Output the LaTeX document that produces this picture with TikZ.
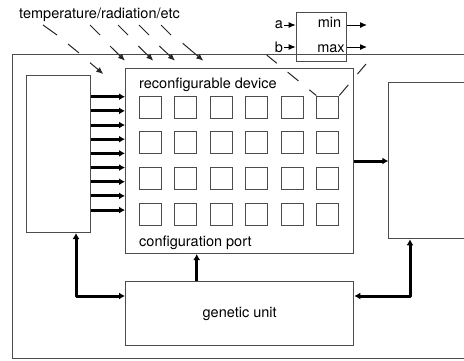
\documentclass[tikz,border=0pt]{standalone}
\usepackage{fontspec}
\setmainfont{TeX Gyre Heros}
\usetikzlibrary{arrows.meta,positioning,calc}

\begin{document}
\begin{tikzpicture}[x=1pt,y=-1pt,font=\fontsize{14.5}{16}\selectfont,
    >={Latex[length=7pt,width=6pt]}]
  % Local definitions
  \def\cellpitch{35.5}
  \def\rowpitch{35.67}

  % Colors
  \colorlet{linecolor}{black!70}

  % Styles
  \tikzstyle{box}=[draw=linecolor,line width=1pt,inner sep=0pt,anchor=north west]
  \tikzstyle{cell}=[draw=linecolor,line width=1pt,inner sep=0pt,minimum size=22pt]
  \tikzstyle{label text}=[anchor=west,inner sep=0pt]
  \tikzstyle{bus}=[line width=3pt,-{Latex[length=6pt,width=7pt]}]
  \tikzstyle{both ways}=[{Latex[length=6pt,width=7pt]}-{Latex[length=6pt,width=7pt]},line join=round]
  \tikzstyle{signal}=[line width=1pt,->]
  \tikzstyle{ray}=[line width=1pt,black!85]
  \tikzstyle{zoom line}=[line width=1pt,black!85,dash pattern=on 14pt off 14pt]

  % The graphic
  \path[use as bounding box,clip] (0,0) rectangle (464,360);

  % boxes
  \node[box,minimum width=480pt,minimum height=304pt] (frame) at (12,54) {};
  \node[box,minimum width=64pt,minimum height=157pt] (leftbox) at (26,75) {};
  \node[box,minimum width=227.7pt,minimum height=185pt] (device) at (125,68) {};
  \node[box,minimum width=100pt,minimum height=156.6pt] (rightbox) at (388.3,81.7) {};
  \node[box,minimum width=228.3pt,minimum height=64.3pt] (genetic) at (125,281) {genetic unit};
  \node[box,minimum width=50.3pt,minimum height=49.3pt] (comp) at (295.7,11.7) {};

  % cells of the device
  \foreach \r in {1,...,4}
    \foreach \c in {1,...,6}
      \node[cell] (cell-\r-\c) at ({150.3+\cellpitch*(\c-1)},{107+\rowpitch*(\r-1)}) {};

  % texts
  \node[label text] (envlabel) at (19,15) {temperature/radiation/etc};
  \node[label text] (devlabel) at ($(device.north west)+(14,17)$) {reconfigurable device};
  \node[label text] (portlabel) at ($(device.south west)+(14,-11.5)$) {configuration port};

  % min/max cell
  \node (minlabel) at (329.5,22.5) {min};
  \node (maxlabel) at (331,48.5) {max};
  \node[inner sep=1pt] (alabel) at (279,25) {a};
  \node[inner sep=1pt] (blabel) at (279,47) {b};
  \coordinate (minout) at (367,25);
  \coordinate (maxout) at (367,47);
  \draw[signal] (alabel.east) -- (alabel.east -| comp.west);
  \draw[signal] (blabel.east) -- (blabel.east -| comp.west);
  \draw[signal] (minout -| comp.east) -- (minout);
  \draw[signal] (maxout -| comp.east) -- (maxout);

  % zoom onto one cell
  \coordinate (zoomleft) at (266.7,55);
  \coordinate (zoomright) at (366,64);
  \draw[zoom line,dash phase=5pt] (cell-1-6.north west) -- (zoomleft);
  \draw[zoom line] (cell-1-6.north east) -- (zoomright);

  % environment
  \foreach \xa/\ya/\xb/\yb in {43/25/57/35, 90/25/100/35, 118/25/128/35,
      139/25/149/35, 161/25/171/35, 68/44/79/53}
    \draw[ray] (\xa,\ya) -- (\xb,\yb);
  \foreach \xa/\ya/\xb/\yb in {90/62.7/103.3/74, 110/46/125/60.7, 138.3/46/153.3/60.7,
      159.3/46/175/60.7, 182.7/43.3/203.3/60.7}
    \draw[ray,->] (\xa,\ya) -- (\xb,\yb);

  % buses
  \foreach \k [evaluate=\k as \yy using 96.7+14.17*\k] in {0,...,8}
    \draw[bus] (leftbox.east |- 0,\yy) -- (device.west |- 0,\yy);
  \draw[bus] (device.east) -- (device.east -| rightbox.west);
  \draw[bus] (genetic.north -| 196.7,0) -- (device.south -| 196.7,0);
  \draw[bus,both ways] (genetic.west |- 0,296) -| (leftbox.south -| 76,0);
  \draw[bus,both ways] (genetic.east |- 0,296) -| (rightbox.south -| 410,0);
\end{tikzpicture}
\end{document}
